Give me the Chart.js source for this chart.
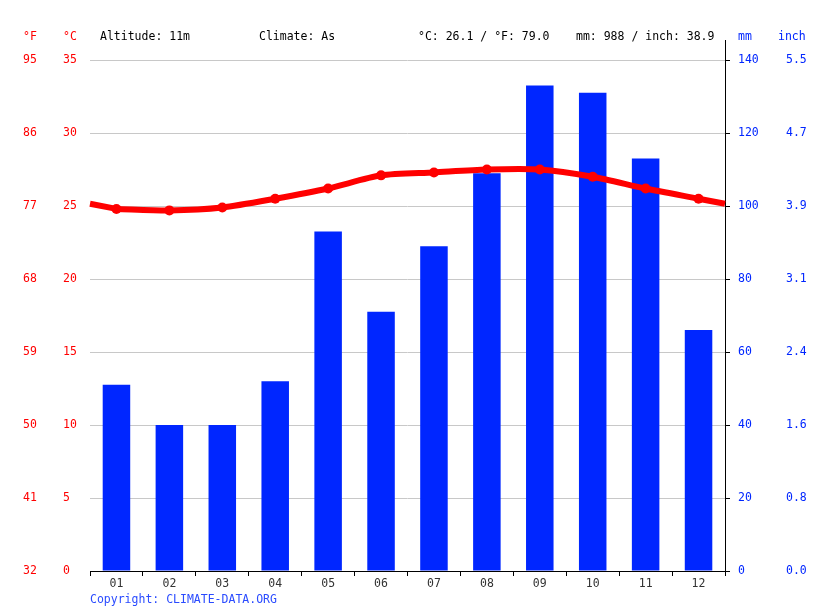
<!DOCTYPE html>
<html>
<head>
<meta charset="utf-8">
<script src="https://cdn.jsdelivr.net/npm/chart.js@4.4.1/dist/chart.umd.min.js"></script>
<style>
  html, body { margin: 0; padding: 0; background: #fff; }
  #wrap { width: 815px; height: 611px; }
</style>
</head>
<body>
<div id="wrap"><canvas id="climate" width="815" height="611"></canvas></div>
<script>
/* ======================================================
    DATA
====================================================== */
const months = ['01', '02', '03', '04', '05', '06', '07', '08', '09', '10', '11', '12'];
const precipMm = [51, 40, 40, 52, 93, 71, 89, 109, 133, 131, 113, 66];
const tempC = [24.8, 24.7, 24.9, 25.5, 26.2, 27.1, 27.3, 27.5, 27.5, 27.0, 26.2, 25.5];
const fahrenheitTicks = ['32', '41', '50', '59', '68', '77', '86', '95'];
const inchTicks = ['0.0', '0.8', '1.6', '2.4', '3.1', '3.9', '4.7', '5.5'];
const headerInfo = ['Altitude: 11m', 'Climate: As', '°C: 26.1 / °F: 79.0', 'mm: 988 / inch: 38.9'];

const RED = '#ff0000';
const BLUE = '#0026ff';
const FONT = 'DejaVu Sans Mono';

Chart.defaults.font.family = FONT;
Chart.defaults.font.size = 11.5;

/* ======================================================
    EXTRA DRAWING (header, edge segments)
====================================================== */
const decorPlugin = {
    id: 'decor',
    beforeDatasetsDraw(chart) {
        // line continues to the plot edges (between Dec and Jan)
        const ctx = chart.ctx;
        const area = chart.chartArea;
        const y = chart.scales.y;
        const meta = chart.getDatasetMeta(1);
        const first = meta.data[0], last = meta.data[meta.data.length - 1];
        const edgeY = y.getPixelForValue((tempC[0] + tempC[tempC.length - 1]) / 2);
        ctx.save();
        ctx.strokeStyle = RED;
        ctx.lineWidth = 6;
        ctx.beginPath();
        ctx.moveTo(area.left, edgeY);
        ctx.lineTo(first.x, first.y);
        ctx.moveTo(last.x, last.y);
        ctx.lineTo(area.right, edgeY);
        ctx.stroke();
        ctx.restore();
    },
    afterDraw(chart) {
        const ctx = chart.ctx;
        const area = chart.chartArea;
        ctx.save();
        // right axis line goes above the plot
        ctx.strokeStyle = '#000';
        ctx.lineWidth = 1;
        ctx.beginPath();
        ctx.moveTo(area.right + 0.5, 40);
        ctx.lineTo(area.right + 0.5, area.top);
        ctx.stroke();

        ctx.font = '11.5px "' + FONT + '"';
        ctx.textBaseline = 'middle';
        ctx.textAlign = 'left';
        ctx.fillStyle = RED;
        ctx.fillText('°F', 23, 37);
        ctx.fillText('°C', 63, 37);
        ctx.fillStyle = BLUE;
        ctx.fillText('mm', 738, 37);
        ctx.fillText('inch', 778, 37);
        ctx.fillStyle = '#000';
        ctx.fillText(headerInfo[0], 100, 37);
        ctx.fillText(headerInfo[1], 259, 37);
        ctx.fillText(headerInfo[2], 418, 37);
        ctx.fillText(headerInfo[3], 576, 37);
        ctx.fillStyle = '#2a4bff';
        ctx.fillText('Copyright: CLIMATE-DATA.ORG', 90, 600);
        ctx.restore();
    }
};

/* ======================================================
    CHART
====================================================== */
new Chart(document.getElementById('climate').getContext('2d'), {
    data: {
        labels: months,
        datasets: [{
            type: 'bar',
            data: precipMm,
            yAxisID: 'mm',
            backgroundColor: BLUE,
            borderWidth: 0,
            categoryPercentage: 1,
            barPercentage: 0.52,
            order: 2
        }, {
            type: 'line',
            data: tempC,
            yAxisID: 'y',
            borderColor: RED,
            backgroundColor: RED,
            borderWidth: 6,
            pointRadius: 5,
            pointBackgroundColor: RED,
            pointBorderWidth: 0,
            tension: 0.25,
            order: 1
        }]
    },
    options: {
        responsive: false,
        animation: false,
        devicePixelRatio: 1,
        layout: { padding: { top: 60, left: 23, right: 0, bottom: 0 } },
        plugins: { legend: { display: false }, tooltip: { enabled: false } },
        scales: {
            x: {
                offset: true,
                grid: { offset: true, drawOnChartArea: false, drawTicks: true, tickLength: 5, color: '#000' },
                border: { display: true, color: '#000' },
                ticks: { color: '#333', padding: 1 },
                afterFit: (s) => { s.height = 40; }
            },
            yF: {
                position: 'left',
                weight: 1,
                min: 0, max: 35,
                grid: { display: false },
                border: { display: false },
                ticks: { stepSize: 5, color: RED, crossAlign: 'far', padding: 0,
                         callback: (v, i) => fahrenheitTicks[i] },
                afterFit: (s) => { s.width = 40; }
            },
            y: {
                position: 'left',
                weight: 0,
                min: 0, max: 35,
                grid: { color: '#c8c8c8', drawTicks: false },
                border: { display: false },
                ticks: { stepSize: 5, color: RED, crossAlign: 'far', padding: 0 },
                afterFit: (s) => { s.width = 27; }
            },
            mm: {
                position: 'right',
                weight: 0,
                min: 0, max: 140,
                grid: { drawOnChartArea: false, drawTicks: true, tickLength: 5, color: '#000' },
                border: { display: true, color: '#000' },
                ticks: { stepSize: 20, color: BLUE, crossAlign: 'near', padding: 8 },
                afterFit: (s) => { s.width = 53; }
            },
            inch: {
                position: 'right',
                weight: 1,
                min: 0, max: 140,
                grid: { display: false },
                border: { display: false },
                ticks: { stepSize: 20, color: BLUE, crossAlign: 'near', padding: 0,
                         callback: (v, i) => inchTicks[i] },
                afterFit: (s) => { s.width = 37; }
            }
        }
    },
    plugins: [decorPlugin]
});
</script>
</body>
</html>
